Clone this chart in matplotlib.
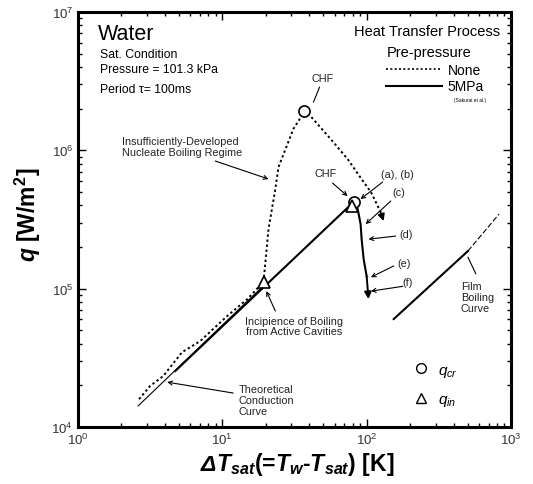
import matplotlib
matplotlib.use("Agg")
import matplotlib.pyplot as plt
from matplotlib.lines import Line2D

plt.rcParams['font.family'] = ['Liberation Sans', 'DejaVu Sans']
plt.rcParams['mathtext.fontset'] = 'custom'
plt.rcParams['mathtext.rm'] = 'Liberation Sans'
plt.rcParams['mathtext.it'] = 'Liberation Sans:italic'
plt.rcParams['mathtext.bf'] = 'Liberation Sans:bold'
plt.rcParams['mathtext.bfit'] = 'Liberation Sans:italic:bold'

# pre-pressure: none (dotted)
none_dT = [2.65, 3.16, 3.89, 5.27, 7.03, 10.8, 14.9, 19.3, 20.9, 23.3, 24.5, 27.4,
           31.1, 33.7, 37.1, 40.8, 56.2, 73.8, 95.3, 107, 125]
none_q = [1.59e4, 1.98e4, 2.33e4, 3.48e4, 4.18e4, 6.34e4, 8.41e4, 1.12e5, 2.70e5,
          5.25e5, 7.57e5, 1.02e6, 1.43e6, 1.63e6, 1.92e6, 1.77e6, 1.21e6, 8.65e5,
          5.90e5, 5.0e5, 3.58e5]
none_end = (131, 3.08e5)

# pre-pressure: 5MPa (solid)
mpa_dT = [4.72, 81.2, 85.3, 90.8, 92.3, 95.3, 100]
mpa_q = [2.54e4, 4.23e5, 4.09e5, 2.93e5, 2.28e5, 1.64e5, 1.23e5]
mpa_end = (103, 8.41e4)

# theoretical conduction curve
cond_dT = [2.61, 20.0]
cond_q = [1.42e4, 1.09e5]

# film boiling curve
film_dT = [154, 503]
film_q = [6.03e4, 1.87e5]
film_ext_dT = [503, 826]
film_ext_q = [1.87e5, 3.46e5]

# markers
chf_dT = [37.1, 81.2]
chf_q = [1.92e6, 4.23e5]
inc_dT = [19.3, 78.7]
inc_q = [1.12e5, 3.96e5]

fig = plt.figure(figsize=(5.33, 4.85), dpi=100)
ax = fig.add_axes([0.1463, 0.1175, 0.8124, 0.8557])
ax.set_xscale('log')
ax.set_yscale('log')
ax.set_xlim(1, 1000)
ax.set_ylim(1e4, 1e7)

dot = (0, (1.2, 1.4))
ax.plot(cond_dT, cond_q, color='k', lw=0.8)
ax.plot(none_dT, none_q, color='k', lw=1.4, ls=dot)
ax.plot(mpa_dT, mpa_q, color='k', lw=1.5)
ax.plot(film_dT, film_q, color='k', lw=1.5)
ax.plot(film_ext_dT, film_ext_q, color='k', lw=0.8, ls=(0, (5, 2)))

ax.annotate('', xy=none_end, xytext=(none_dT[-1], none_q[-1]),
            arrowprops=dict(arrowstyle='-|>', color='k', lw=1.2, mutation_scale=10,
                            shrinkA=0, shrinkB=0))
ax.annotate('', xy=mpa_end, xytext=(mpa_dT[-1], mpa_q[-1]),
            arrowprops=dict(arrowstyle='-|>', color='k', lw=1.4, mutation_scale=10,
                            shrinkA=0, shrinkB=0))

ax.plot(chf_dT, chf_q, 'o', mfc='white', mec='k', ms=8, mew=1.2, ls='none')
ax.plot(inc_dT, inc_q, '^', mfc='white', mec='k', ms=8, mew=1.2, ls='none')

# annotations: (text, text pos, ha, arrow start, arrow end, head)
small = 7.8
notes = [
    ("Insufficiently-Developed\nNucleate Boiling Regime", (2.02, 1.07e6), 'left',
     (8.94, 8.37e5), (20.9, 6.2e5), True),
    ("CHF", (49.5, 3.33e6), 'center', (47.2, 2.87e6), (42.8, 2.23e6), False),
    ("CHF", (51.9, 6.85e5), 'center', (58.0, 5.8e5), (73.8, 4.67e5), True),
    ("(a), (b)", (164, 6.74e5), 'center', (129, 5.9e5), (90.8, 4.44e5), True),
    ("(c)", (167, 4.99e5), 'center', (147, 4.30e5), (98.4, 2.93e5), True),
    ("(d)", (187, 2.48e5), 'center', (159, 2.40e5), (103, 2.28e5), True),
    ("(e)", (181, 1.53e5), 'center', (154, 1.46e5), (107, 1.21e5), True),
    ("(f)", (193, 1.12e5), 'center', (178, 1.04e5), (107, 9.6e4), True),
    ("Incipience of Boiling\nfrom Active Cavities", (31.6, 5.37e4), 'center',
     (23.3, 6.89e4), (20.2, 9.6e4), True),
    ("Theoretical\nConduction\nCurve", (12.9, 1.57e4), 'left',
     (11.9, 1.76e4), (4.15, 2.11e4), True),
    ("Film\nBoiling\nCurve", (450, 8.7e4), 'left', (571, 1.28e5), (503, 1.69e5), False),
]
for txt, pos, ha, start, end, head in notes:
    ax.text(pos[0], pos[1], txt, fontsize=small, ha=ha, va='center',
            color='#222', linespacing=1.1)
    ax.annotate('', xy=end, xytext=start,
                arrowprops=dict(arrowstyle='->' if head else '-', color='k', lw=0.8,
                                mutation_scale=7, shrinkA=0, shrinkB=0))

# condition texts
ax.text(0.046, 0.949, "Water", transform=ax.transAxes, fontsize=15.5, va='center')
ax.text(0.051, 0.899, "Sat. Condition", transform=ax.transAxes, fontsize=8.8, va='center')
ax.text(0.051, 0.863, "Pressure = 101.3 kPa", transform=ax.transAxes, fontsize=8.8, va='center')
ax.text(0.051, 0.814, "Period \u03c4= 100ms", transform=ax.transAxes, fontsize=8.8, va='center')

ax.text(0.975, 0.954, "Heat Transfer Process", transform=ax.transAxes, fontsize=10.5,
        ha='right', va='center')
ax.text(0.714, 0.904, "Pre-pressure", transform=ax.transAxes, fontsize=10.5, va='center')

line_handles = [Line2D([], [], color='k', lw=1.2, ls=dot),
                Line2D([], [], color='k', lw=1.5)]
leg1 = ax.legend(line_handles, ['None', '5MPa'], loc='upper left',
                 bbox_to_anchor=(0.712, 0.878), frameon=False, fontsize=10,
                 handlelength=4.0, handletextpad=0.4, labelspacing=0.2,
                 borderpad=0, borderaxespad=0)
ax.add_artist(leg1)
ax.text(0.905, 0.79, "(Sakurai et al.)", transform=ax.transAxes, fontsize=3.5,
        ha='center', va='center')

marker_handles = [Line2D([], [], marker='o', mfc='white', mec='k', ms=7, ls='none'),
                  Line2D([], [], marker='^', mfc='white', mec='k', ms=7, ls='none')]
ax.legend(marker_handles, [r'$q_{cr}$', r'$q_{in}$'], loc='upper left',
          bbox_to_anchor=(0.775, 0.155), frameon=False, fontsize=11,
          handlelength=1.0, handletextpad=0.6, labelspacing=0.9,
          borderpad=0, borderaxespad=0)

ax.set_xlabel(r'$\mathbfit{\Delta T}_{\mathbfit{sat}}$(=$\mathbfit{T}_{\mathbfit{w}}$-$\mathbfit{T}_{\mathbfit{sat}}$) [K]',
              fontsize=16.5, fontweight='bold')
ax.set_ylabel(r'$\mathbfit{q}$ [W/m$^{\mathbf{2}}$]', fontsize=16.5, fontweight='bold')
ax.xaxis.set_label_coords(0.506, -0.055)
ax.yaxis.set_label_coords(-0.081, 0.513)

for s in ax.spines.values():
    s.set_linewidth(2.2)
ax.tick_params(which='both', direction='in', top=True, right=True, width=1,
               labelsize=9.5, labelcolor='#333')
ax.tick_params(which='major', length=6)
ax.tick_params(which='minor', length=3)

fig.savefig('out.png', dpi=100)
